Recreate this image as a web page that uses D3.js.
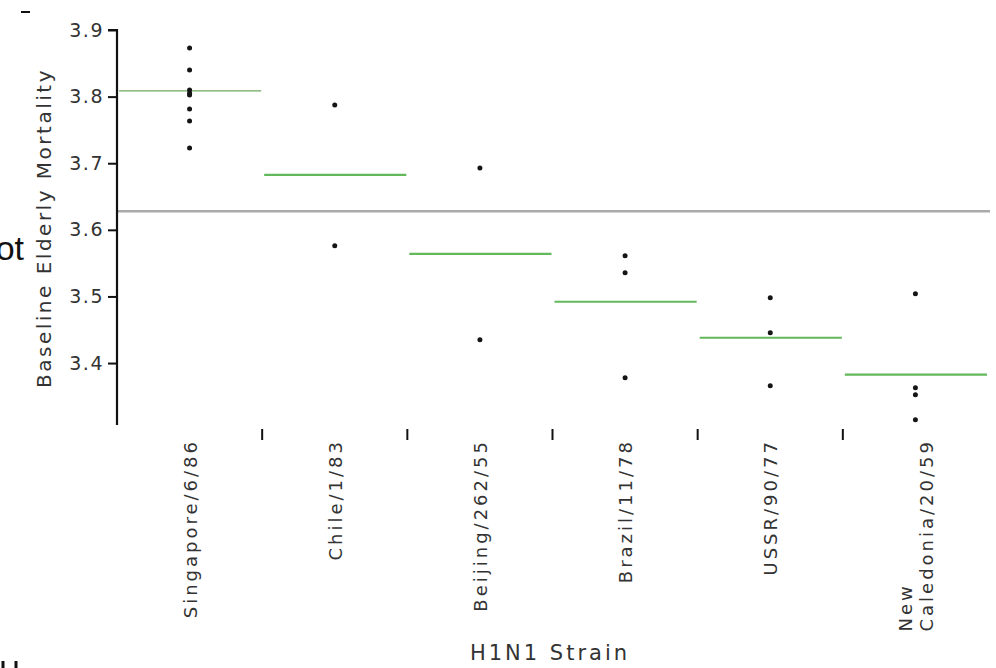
<!DOCTYPE html>
<html>
<head>
<meta charset="utf-8">
<script src="https://cdn.jsdelivr.net/npm/d3@7"></script>
<style>
  body { margin: 0; background: #fff; }
  text { font-family: "DejaVu Sans", sans-serif; fill: #333; }
</style>
</head>
<body>
<div id="chart"></div>
<script>
// cepas (categorias), lineas de la etiqueta
const strains = ["Singapore/6/86", "Chile/1/83", "Beijing/262/55", "Brazil/11/78", "USSR/90/77", "New Caledonia/20/59"];
const strainLines = [["Singapore/6/86"], ["Chile/1/83"], ["Beijing/262/55"], ["Brazil/11/78"], ["USSR/90/77"], ["New", "Caledonia/20/59"]];

// medias por grupo y media global
const groupMeans = [3.8085, 3.6825, 3.564, 3.492, 3.438, 3.3825];
const grandMean = 3.628;

// observaciones por cepa
const singaporeVals = [3.873, 3.84, 3.81, 3.805, 3.8025, 3.7815, 3.7635, 3.723];
const chileVals = [3.7875, 3.576];
const beijingVals = [3.693, 3.435];
const brazilVals = [3.561, 3.5355, 3.378];
const ussrVals = [3.498, 3.4455, 3.366];
const newCalVals = [3.504, 3.363, 3.3525, 3.315];

const yTicks = [3.4, 3.5, 3.6, 3.7, 3.8, 3.9];

// ----------------------------------------------------------

const width = 996;
const height = 668;

const svg = d3.select("div#chart").append("svg").attr("width", width).attr("height", height);

const x = d3.scaleBand().domain(strains).range([117, 988]).paddingInner(0).paddingOuter(0);
const y = d3.scaleLinear().domain([3.307, 3.9]).range([425, 30]);

const points = [];
[singaporeVals, chileVals, beijingVals, brazilVals, ussrVals, newCalVals].forEach((vals, i) => {
    vals.forEach(v => points.push({ strain: strains[i], value: v }));
});

// media global (gris)
svg.append("line")
    .attr("x1", x.range()[0]).attr("x2", x.range()[1] + 2)
    .attr("y1", y(grandMean)).attr("y2", y(grandMean))
    .attr("stroke", "#aaaaaa").attr("stroke-width", 2.5);

// medias por grupo (verde)
svg.selectAll(".mean")
    .data(groupMeans)
    .enter().append("line")
    .attr("class", "mean")
    .attr("x1", (d, i) => x(strains[i]) + 2)
    .attr("x2", (d, i) => x(strains[i]) + x.bandwidth() - 1)
    .attr("y1", d => y(d)).attr("y2", d => y(d))
    .attr("stroke", (d, i) => i === 0 ? "#6aaa5e" : "#62b85a")
    .attr("stroke-width", (d, i) => i === 0 ? 1.3 : 2.2);

// puntos
svg.selectAll(".dot")
    .data(points)
    .enter().append("circle")
    .attr("class", "dot")
    .attr("cx", d => x(d.strain) + x.bandwidth() / 2)
    .attr("cy", d => y(d.value))
    .attr("r", 2.5)
    .attr("fill", "#151515");

// eje y
const yAxisGroup = svg.append("g").attr("transform", "translate(117,0)")
    .call(d3.axisLeft(y).tickValues(yTicks).tickFormat(d3.format(".1f")).tickSize(9).tickPadding(4));
yAxisGroup.select(".domain").attr("stroke", "#111").attr("stroke-width", 2.2)
    .attr("d", `M-9,${y(3.9)}H0V${y.range()[0]}`);
yAxisGroup.selectAll(".tick line").attr("stroke", "#111").attr("stroke-width", 2);
yAxisGroup.selectAll(".tick text")
    .style("font-family", "DejaVu Sans, sans-serif")
    .style("font-size", "19px").style("letter-spacing", "1.5px")
    .attr("fill", "#333");

// marcas entre categorias
svg.selectAll(".sep")
    .data(strains.slice(1))
    .enter().append("line")
    .attr("class", "sep")
    .attr("x1", d => x(d)).attr("x2", d => x(d))
    .attr("y1", 429).attr("y2", 440)
    .attr("stroke", "#111").attr("stroke-width", 2);

// etiquetas de categoria (giradas)
const labelTop = 439;
strainLines.forEach((lines, i) => {
    const cx = x(strains[i]) + x.bandwidth() / 2;
    const g = svg.append("g");
    const texts = lines.map((ln, j) => g.append("text")
        .attr("font-size", 18).style("letter-spacing", "3px")
        .text(ln));
    const lens = texts.map(t => t.node().getComputedTextLength());
    const maxLen = d3.max(lens);
    const lineH = 21;
    const offset0 = -(lines.length - 1) * lineH / 2;
    texts.forEach((t, j) => {
        const px = cx + offset0 + j * lineH + 7;
        const py = labelTop + maxLen;
        t.attr("transform", `translate(${px},${py}) rotate(-90)`);
    });
});

// titulos de ejes
svg.append("text")
    .attr("x", 550).attr("y", 660)
    .attr("text-anchor", "middle")
    .attr("font-size", 21).style("letter-spacing", "3px")
    .text("H1N1 Strain");

svg.append("text")
    .attr("transform", "translate(51,228) rotate(-90)")
    .attr("text-anchor", "middle")
    .attr("font-size", 20).style("letter-spacing", "2.5px")
    .text("Baseline Elderly Mortality");

// restos recortados de la diapositiva
svg.append("text")
    .attr("x", 24).attr("y", 260)
    .attr("text-anchor", "end")
    .style("font-family", "Liberation Sans, Arial, sans-serif")
    .style("fill", "#111")
    .attr("font-size", 34)
    .text("ot");
svg.append("line").attr("x1", 21).attr("x2", 30).attr("y1", 12).attr("y2", 12)
    .attr("stroke", "#111").attr("stroke-width", 2);
svg.append("line").attr("x1", 3).attr("x2", 3).attr("y1", 661).attr("y2", 668)
    .attr("stroke", "#111").attr("stroke-width", 3);
svg.append("line").attr("x1", 16).attr("x2", 16).attr("y1", 661).attr("y2", 668)
    .attr("stroke", "#111").attr("stroke-width", 3);
</script>
</body>
</html>
